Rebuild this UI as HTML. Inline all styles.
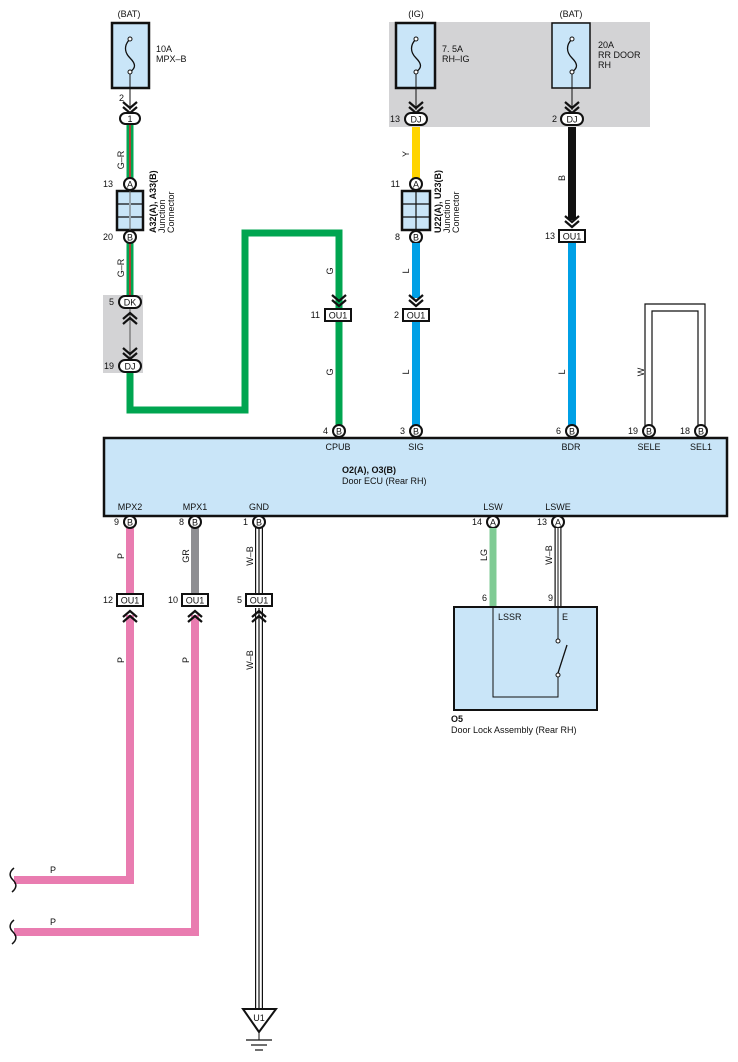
<!DOCTYPE html>
<html><head><meta charset="utf-8">
<style>
html,body{margin:0;padding:0;background:#fff;}
svg{display:block;font-family:"Liberation Sans",Arial,sans-serif;}
text{font-size:9px;fill:#111;}
</style></head>
<body>
<svg width="738" height="1062" viewBox="0 0 738 1062" xmlns="http://www.w3.org/2000/svg">
<defs>
<g id="chev"><path d="M-7,-8 L0,-2 L7,-8 M-7,-3 L0,3 L7,-3" fill="none" stroke="#111" stroke-width="2.2"/></g>
<g id="chevup"><path d="M-7,8 L0,2 L7,8 M-7,3 L0,-3 L7,3" fill="none" stroke="#111" stroke-width="2.2"/></g>
</defs>

<!-- gray areas -->
<rect x="389" y="22" width="261" height="105" fill="#d3d3d5"/>
<rect x="103" y="295" width="40" height="78" fill="#d3d3d5"/>

<!-- ===== Left column G-R ===== -->
<line x1="130" y1="125" x2="130" y2="178" stroke="#00a550" stroke-width="7"/>
<line x1="130" y1="125" x2="130" y2="178" stroke="#e0202a" stroke-width="1.5"/>
<line x1="130" y1="243" x2="130" y2="296" stroke="#00a550" stroke-width="7"/>
<line x1="130" y1="243" x2="130" y2="296" stroke="#e0202a" stroke-width="1.5"/>
<line x1="130" y1="308" x2="130" y2="360" stroke="#555" stroke-width="1"/>
<!-- green route -->
<path d="M130,372 L130,410 L245,410 L245,233 L339,233 L339,308" fill="none" stroke="#00a550" stroke-width="7" stroke-linejoin="miter"/>
<line x1="339" y1="320" x2="339" y2="426" stroke="#00a550" stroke-width="7"/>

<!-- fuse 1 -->
<rect x="112" y="23" width="37" height="65" fill="#c9e5f8" stroke="#111" stroke-width="2.5"/>
<path d="M130,39 C124,45 124,52 130,58 C136,64 136,68 130,72" fill="none" stroke="#111" stroke-width="1.3"/>
<circle cx="130" cy="39" r="2" fill="#fff" stroke="#111"/><circle cx="130" cy="72" r="2" fill="#fff" stroke="#111"/>
<line x1="130" y1="74" x2="130" y2="110" stroke="#111" stroke-width="1"/>
<use href="#chev" x="130" y="110"/>
<text x="129" y="17" text-anchor="middle">(BAT)</text>
<text x="156" y="52">10A</text><text x="156" y="62">MPX–B</text>
<text x="119" y="101">2</text>
<rect x="120" y="113" width="20" height="11" rx="5.5" fill="#fff" stroke="#111" stroke-width="2"/>
<text x="130" y="122" text-anchor="middle">1</text>
<text x="124" y="160" transform="rotate(-90 124 160)" text-anchor="middle" font-size="8.5">G–R</text>
<text x="124" y="268" transform="rotate(-90 124 268)" text-anchor="middle" font-size="8.5">G–R</text>

<!-- junction A32 -->
<circle cx="130" cy="184" r="6" fill="#fff" stroke="#111" stroke-width="2"/><text x="130" y="187.5" text-anchor="middle" font-size="8.5">A</text>
<text x="113" y="187" text-anchor="end">13</text>
<rect x="117" y="191" width="26" height="39" fill="#c9e5f8" stroke="#111" stroke-width="2.5"/>
<line x1="130" y1="191" x2="130" y2="230" stroke="#666" stroke-width="1"/>
<line x1="118" y1="204" x2="142" y2="204" stroke="#111" stroke-width="1.2" stroke-dasharray="11,2"/>
<line x1="118" y1="217" x2="142" y2="217" stroke="#111" stroke-width="1.2" stroke-dasharray="11,2"/>
<circle cx="130" cy="237" r="6" fill="#fff" stroke="#111" stroke-width="2"/><text x="130" y="240.5" text-anchor="middle" font-size="8.5">B</text>
<text x="113" y="240" text-anchor="end">20</text>
<text x="156" y="233" transform="rotate(-90 156 233)" font-weight="bold" font-size="8.5">A32(A), A33(B)</text>
<text x="165" y="233" transform="rotate(-90 165 233)" font-size="8.5">Junction</text>
<text x="174" y="233" transform="rotate(-90 174 233)" font-size="8.5">Connector</text>

<!-- DK / DJ -->
<rect x="119" y="296" width="22" height="12" rx="6" fill="#fff" stroke="#111" stroke-width="2"/><text x="130" y="305.5" text-anchor="middle">DK</text>
<text x="114" y="305" text-anchor="end">5</text>
<use href="#chevup" x="130" y="316"/>
<use href="#chev" x="130" y="356"/>
<rect x="119" y="360" width="22" height="12" rx="6" fill="#fff" stroke="#111" stroke-width="2"/><text x="130" y="369.5" text-anchor="middle">DJ</text>
<text x="114" y="369" text-anchor="end">19</text>

<!-- CPUB column -->
<text x="333" y="271" transform="rotate(-90 333 271)" text-anchor="middle" font-size="8.5">G</text>
<use href="#chev" x="339" y="303"/>
<rect x="325" y="309" width="26" height="12" fill="#fff" stroke="#111" stroke-width="2"/><text x="338" y="318.5" text-anchor="middle">OU1</text>
<text x="320" y="318" text-anchor="end">11</text>
<text x="333" y="372" transform="rotate(-90 333 372)" text-anchor="middle" font-size="8.5">G</text>

<!-- IG fuse & yellow -->
<rect x="396" y="23" width="39" height="65" fill="#c9e5f8" stroke="#111" stroke-width="2.5"/>
<path d="M416,39 C410,45 410,52 416,58 C422,64 422,68 416,72" fill="none" stroke="#111" stroke-width="1.3"/>
<circle cx="416" cy="39" r="2" fill="#fff" stroke="#111"/><circle cx="416" cy="72" r="2" fill="#fff" stroke="#111"/>
<line x1="416" y1="74" x2="416" y2="110" stroke="#111"/>
<use href="#chev" x="416" y="110"/>
<text x="416" y="17" text-anchor="middle">(IG)</text>
<text x="442" y="52">7. 5A</text><text x="442" y="62">RH–IG</text>
<rect x="405" y="113" width="22" height="12" rx="6" fill="#fff" stroke="#111" stroke-width="2"/><text x="416" y="122.5" text-anchor="middle">DJ</text>
<text x="400" y="122" text-anchor="end">13</text>
<line x1="416" y1="127" x2="416" y2="178" stroke="#ffd400" stroke-width="8"/>
<text x="409" y="154" transform="rotate(-90 409 154)" text-anchor="middle" font-size="8.5">Y</text>
<circle cx="416" cy="184" r="6" fill="#fff" stroke="#111" stroke-width="2"/><text x="416" y="187.5" text-anchor="middle" font-size="8.5">A</text>
<text x="400" y="187" text-anchor="end">11</text>
<rect x="402" y="191" width="28" height="39" fill="#c9e5f8" stroke="#111" stroke-width="2.5"/>
<line x1="416" y1="191" x2="416" y2="230" stroke="#111" stroke-width="1.2"/>
<line x1="403" y1="204" x2="429" y2="204" stroke="#111" stroke-width="1.2"/>
<line x1="403" y1="217" x2="429" y2="217" stroke="#111" stroke-width="1.2"/>
<circle cx="416" cy="237" r="6" fill="#fff" stroke="#111" stroke-width="2"/><text x="416" y="240.5" text-anchor="middle" font-size="8.5">B</text>
<text x="400" y="240" text-anchor="end">8</text>
<text x="441" y="233" transform="rotate(-90 441 233)" font-weight="bold" font-size="8.5">U22(A), U23(B)</text>
<text x="450" y="233" transform="rotate(-90 450 233)" font-size="8.5">Junction</text>
<text x="459" y="233" transform="rotate(-90 459 233)" font-size="8.5">Connector</text>
<line x1="416" y1="243" x2="416" y2="298" stroke="#00a0e6" stroke-width="8"/>
<line x1="416" y1="321" x2="416" y2="426" stroke="#00a0e6" stroke-width="8"/>
<text x="409" y="271" transform="rotate(-90 409 271)" text-anchor="middle" font-size="8.5">L</text>
<use href="#chev" x="416" y="303"/>
<rect x="403" y="309" width="26" height="12" fill="#fff" stroke="#111" stroke-width="2"/><text x="416" y="318.5" text-anchor="middle">OU1</text>
<text x="399" y="318" text-anchor="end">2</text>
<text x="409" y="372" transform="rotate(-90 409 372)" text-anchor="middle" font-size="8.5">L</text>

<!-- BAT 20A fuse & black -->
<rect x="552" y="23" width="38" height="65" fill="#c9e5f8" stroke="#111" stroke-width="1.5"/>
<path d="M572,39 C566,45 566,52 572,58 C578,64 578,68 572,72" fill="none" stroke="#111" stroke-width="1.3"/>
<circle cx="572" cy="39" r="2" fill="#fff" stroke="#111"/><circle cx="572" cy="72" r="2" fill="#fff" stroke="#111"/>
<line x1="572" y1="74" x2="572" y2="110" stroke="#111"/>
<use href="#chev" x="572" y="110"/>
<text x="571" y="17" text-anchor="middle">(BAT)</text>
<text x="598" y="48">20A</text><text x="598" y="58">RR DOOR</text><text x="598" y="68">RH</text>
<rect x="561" y="113" width="22" height="12" rx="6" fill="#fff" stroke="#111" stroke-width="2"/><text x="572" y="122.5" text-anchor="middle">DJ</text>
<text x="557" y="122" text-anchor="end">2</text>
<line x1="572" y1="127" x2="572" y2="220" stroke="#111" stroke-width="8"/>
<text x="565" y="178" transform="rotate(-90 565 178)" text-anchor="middle" font-size="8.5">B</text>
<use href="#chev" x="572" y="224"/>
<rect x="559" y="230" width="26" height="12" fill="#fff" stroke="#111" stroke-width="2"/><text x="572" y="239.5" text-anchor="middle">OU1</text>
<text x="555" y="239" text-anchor="end">13</text>
<line x1="572" y1="243" x2="572" y2="426" stroke="#00a0e6" stroke-width="8"/>
<text x="565" y="372" transform="rotate(-90 565 372)" text-anchor="middle" font-size="8.5">L</text>

<!-- W loop -->
<path d="M645,426 L645,304 L705,304 L705,426" fill="none" stroke="#111" stroke-width="1.2"/>
<path d="M652,426 L652,311 L698,311 L698,426" fill="none" stroke="#111" stroke-width="1.2"/>
<text x="644" y="372" transform="rotate(-90 644 372)" text-anchor="middle" font-size="8.5">W</text>

<!-- ECU -->
<rect x="104" y="438" width="623" height="78" fill="#c9e5f8" stroke="#111" stroke-width="2.5"/>
<g font-size="8.5">
<circle cx="339" cy="431" r="6" fill="#fff" stroke="#111" stroke-width="2"/><text x="339" y="434.5" text-anchor="middle">B</text><text x="328" y="434" text-anchor="end">4</text>
<circle cx="416" cy="431" r="6" fill="#fff" stroke="#111" stroke-width="2"/><text x="416" y="434.5" text-anchor="middle">B</text><text x="405" y="434" text-anchor="end">3</text>
<circle cx="572" cy="431" r="6" fill="#fff" stroke="#111" stroke-width="2"/><text x="572" y="434.5" text-anchor="middle">B</text><text x="561" y="434" text-anchor="end">6</text>
<circle cx="649" cy="431" r="6" fill="#fff" stroke="#111" stroke-width="2"/><text x="649" y="434.5" text-anchor="middle">B</text><text x="638" y="434" text-anchor="end">19</text>
<circle cx="701" cy="431" r="6" fill="#fff" stroke="#111" stroke-width="2"/><text x="701" y="434.5" text-anchor="middle">B</text><text x="690" y="434" text-anchor="end">18</text>
</g>
<text x="338" y="450" text-anchor="middle">CPUB</text>
<text x="416" y="450" text-anchor="middle">SIG</text>
<text x="571" y="450" text-anchor="middle">BDR</text>
<text x="649" y="450" text-anchor="middle">SELE</text>
<text x="701" y="450" text-anchor="middle">SEL1</text>
<text x="342" y="473" font-weight="bold">O2(A), O3(B)</text>
<text x="342" y="484">Door ECU (Rear RH)</text>
<text x="130" y="510" text-anchor="middle">MPX2</text>
<text x="195" y="510" text-anchor="middle">MPX1</text>
<text x="259" y="510" text-anchor="middle">GND</text>
<text x="493" y="510" text-anchor="middle">LSW</text>
<text x="558" y="510" text-anchor="middle">LSWE</text>

<!-- bottom wires -->
<line x1="130" y1="528" x2="130" y2="594" stroke="#e97cb0" stroke-width="8"/>
<line x1="195" y1="528" x2="195" y2="594" stroke="#8e8e92" stroke-width="8"/>
<path d="M130,615 L130,880 L14,880" fill="none" stroke="#e97cb0" stroke-width="8"/>
<path d="M195,615 L195,932 L14,932" fill="none" stroke="#e97cb0" stroke-width="8"/>
<path d="M14,868 C9,872 9,876 13,880 C17,884 17,888 12,892" fill="none" stroke="#111" stroke-width="1.5"/>
<path d="M14,920 C9,924 9,928 13,932 C17,936 17,940 12,944" fill="none" stroke="#111" stroke-width="1.5"/>
<text x="50" y="873" font-size="8.5">P</text>
<text x="50" y="925" font-size="8.5">P</text>
<!-- GND W-B -->
<line x1="259" y1="528" x2="259" y2="594" stroke="#111" stroke-width="8"/>
<line x1="259" y1="528" x2="259" y2="594" stroke="#fff" stroke-width="5.6"/>
<line x1="259" y1="528" x2="259" y2="594" stroke="#111" stroke-width="1.2"/>
<line x1="259" y1="608" x2="259" y2="1009" stroke="#111" stroke-width="8"/>
<line x1="259" y1="608" x2="259" y2="1009" stroke="#fff" stroke-width="5.6"/>
<line x1="259" y1="608" x2="259" y2="1009" stroke="#111" stroke-width="1.2"/>
<path d="M243,1009 L276,1009 L259,1032 Z" fill="#fff" stroke="#111" stroke-width="2"/>
<text x="259" y="1021" text-anchor="middle" font-size="8.5">U1</text>
<line x1="259" y1="1032" x2="259" y2="1040" stroke="#111"/>
<line x1="246" y1="1040" x2="272" y2="1040" stroke="#111" stroke-width="1.2"/>
<line x1="251" y1="1045" x2="267" y2="1045" stroke="#111" stroke-width="1.2"/>
<line x1="255" y1="1050" x2="263" y2="1050" stroke="#111" stroke-width="1.2"/>

<g font-size="8.5">
<circle cx="130" cy="522" r="6" fill="#fff" stroke="#111" stroke-width="2"/><text x="130" y="525.5" text-anchor="middle">B</text><text x="119" y="525" text-anchor="end">9</text>
<circle cx="195" cy="522" r="6" fill="#fff" stroke="#111" stroke-width="2"/><text x="195" y="525.5" text-anchor="middle">B</text><text x="184" y="525" text-anchor="end">8</text>
<circle cx="259" cy="522" r="6" fill="#fff" stroke="#111" stroke-width="2"/><text x="259" y="525.5" text-anchor="middle">B</text><text x="248" y="525" text-anchor="end">1</text>
<circle cx="493" cy="522" r="6" fill="#fff" stroke="#111" stroke-width="2"/><text x="493" y="525.5" text-anchor="middle">A</text><text x="482" y="525" text-anchor="end">14</text>
<circle cx="558" cy="522" r="6" fill="#fff" stroke="#111" stroke-width="2"/><text x="558" y="525.5" text-anchor="middle">A</text><text x="547" y="525" text-anchor="end">13</text>
</g>
<text x="124" y="556" transform="rotate(-90 124 556)" text-anchor="middle" font-size="8.5">P</text>
<text x="189" y="556" transform="rotate(-90 189 556)" text-anchor="middle" font-size="8.5">GR</text>
<text x="253" y="556" transform="rotate(-90 253 556)" text-anchor="middle" font-size="8.5">W–B</text>
<text x="124" y="660" transform="rotate(-90 124 660)" text-anchor="middle" font-size="8.5">P</text>
<text x="189" y="660" transform="rotate(-90 189 660)" text-anchor="middle" font-size="8.5">P</text>
<text x="253" y="660" transform="rotate(-90 253 660)" text-anchor="middle" font-size="8.5">W–B</text>
<rect x="117" y="594" width="26" height="12" fill="#fff" stroke="#111" stroke-width="2"/><text x="130" y="603.5" text-anchor="middle">OU1</text><text x="113" y="603" text-anchor="end">12</text>
<rect x="182" y="594" width="26" height="12" fill="#fff" stroke="#111" stroke-width="2"/><text x="195" y="603.5" text-anchor="middle">OU1</text><text x="178" y="603" text-anchor="end">10</text>
<rect x="246" y="594" width="26" height="12" fill="#fff" stroke="#111" stroke-width="2"/><text x="259" y="603.5" text-anchor="middle">OU1</text><text x="242" y="603" text-anchor="end">5</text>
<use href="#chevup" x="130" y="614"/>
<use href="#chevup" x="195" y="614"/>
<use href="#chevup" x="259" y="614"/>

<!-- door lock -->
<line x1="493" y1="528" x2="493" y2="607" stroke="#7fcb94" stroke-width="7"/>
<line x1="558" y1="528" x2="558" y2="607" stroke="#111" stroke-width="7"/>
<line x1="558" y1="528" x2="558" y2="607" stroke="#fff" stroke-width="4.6"/>
<line x1="558" y1="528" x2="558" y2="607" stroke="#111" stroke-width="1"/>
<text x="487" y="555" transform="rotate(-90 487 555)" text-anchor="middle" font-size="8.5">LG</text>
<text x="552" y="555" transform="rotate(-90 552 555)" text-anchor="middle" font-size="8.5">W–B</text>
<text x="487" y="601" text-anchor="end">6</text>
<text x="553" y="601" text-anchor="end">9</text>
<rect x="454" y="607" width="143" height="103" fill="#c9e5f8" stroke="#111" stroke-width="2"/>
<path d="M493,607 L493,697 L558,697 L558,676" fill="none" stroke="#111" stroke-width="1"/>
<line x1="558" y1="607" x2="558" y2="641" stroke="#111" stroke-width="1"/>
<circle cx="558" cy="641" r="2" fill="#fff" stroke="#111"/>
<circle cx="558" cy="675" r="2" fill="#fff" stroke="#111"/>
<line x1="558" y1="673" x2="567" y2="645" stroke="#111" stroke-width="1.3"/>
<text x="498" y="620">LSSR</text>
<text x="562" y="620">E</text>
<text x="451" y="722" font-weight="bold">O5</text>
<text x="451" y="733">Door Lock Assembly (Rear RH)</text>
</svg>
</body></html>
